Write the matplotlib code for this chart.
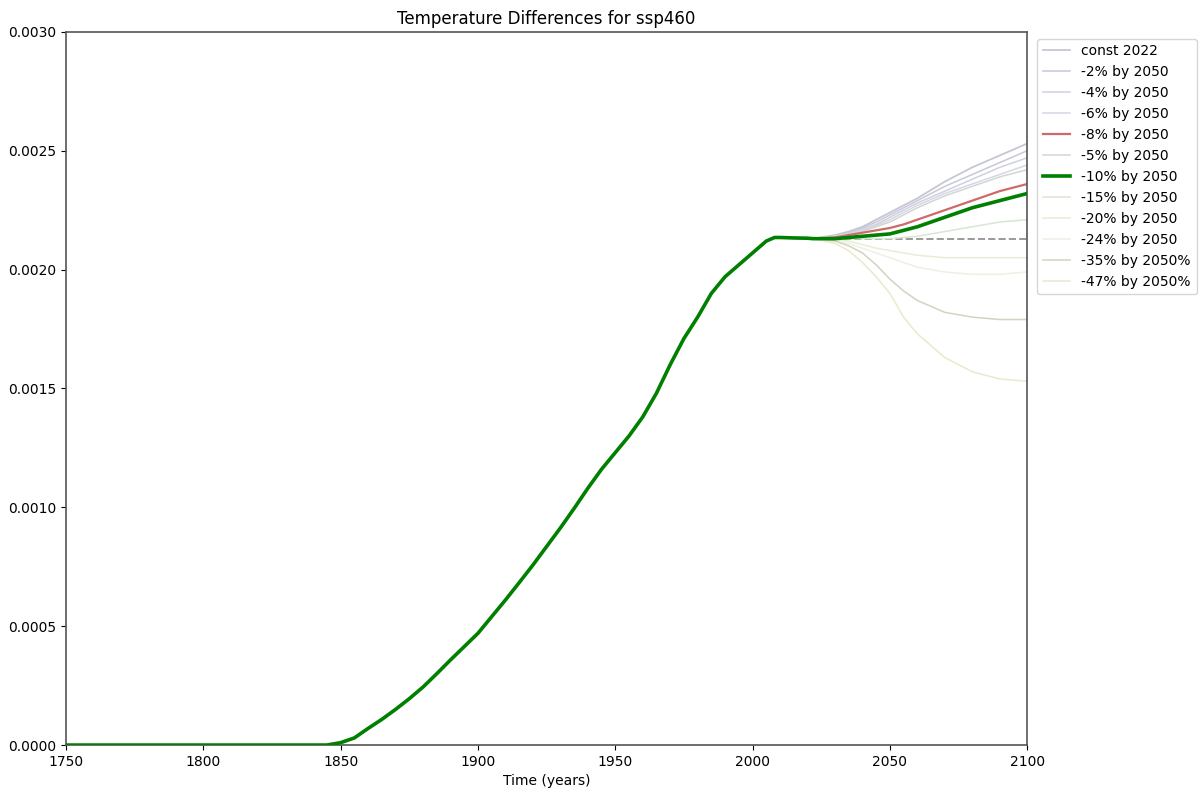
import matplotlib
matplotlib.use("Agg")
import matplotlib.pyplot as plt

# historical temperature difference (shared by every scenario)
hist_years = [1750, 1800, 1845, 1850, 1855, 1860, 1865, 1870, 1875, 1880, 1885, 1890,
              1895, 1900, 1905, 1910, 1915, 1920, 1925, 1930, 1935, 1940, 1945, 1950,
              1955, 1960, 1965, 1970, 1975, 1980, 1985, 1990, 1995, 2000, 2005, 2008,
              2010, 2015, 2020]
hist_vals = [0.0, 0.0, 0.0, 0.00001, 0.00003, 0.00007, 0.000108, 0.00015, 0.000195, 0.000244,
             0.0003, 0.000358, 0.000414, 0.00047, 0.00054, 0.00061, 0.000683, 0.000757, 0.000835,
             0.000913, 0.000995, 0.00108, 0.00116, 0.00123, 0.0013, 0.00138, 0.00148, 0.0016,
             0.00171, 0.0018, 0.0019, 0.00197, 0.00202, 0.00207, 0.00212, 0.002135,
             0.002135, 0.002133, 0.002132]

# projections after 2022
fut_years = [2022, 2030, 2035, 2040, 2045, 2050, 2055, 2060, 2070, 2080, 2090, 2100]

const_2022 = [0.00213, 0.002145, 0.00216, 0.00218, 0.00221, 0.00224, 0.00227, 0.0023, 0.00237, 0.00243, 0.00248, 0.00253]
cut_2 = [0.00213, 0.00214, 0.002155, 0.002175, 0.0022, 0.00223, 0.00226, 0.00229, 0.00235, 0.0024, 0.00245, 0.0025]
cut_4 = [0.00213, 0.00214, 0.00215, 0.00217, 0.00219, 0.00222, 0.00225, 0.00228, 0.00233, 0.00238, 0.00243, 0.00247]
cut_6 = [0.00213, 0.00214, 0.00215, 0.002165, 0.002185, 0.00221, 0.00224, 0.00227, 0.00232, 0.00236, 0.0024, 0.00244]
cut_8 = [0.00213, 0.002135, 0.002145, 0.002155, 0.002165, 0.002175, 0.00219, 0.00221, 0.00225, 0.00229, 0.00233, 0.00236]
cut_5 = [0.00213, 0.00214, 0.00215, 0.00216, 0.00218, 0.0022, 0.00223, 0.00226, 0.00231, 0.00235, 0.00239, 0.00242]
cut_10 = [0.00213, 0.00213, 0.002135, 0.00214, 0.002145, 0.00215, 0.002165, 0.00218, 0.00222, 0.00226, 0.00229, 0.00232]
cut_15 = [0.00213, 0.00213, 0.00213, 0.00213, 0.00213, 0.00213, 0.002135, 0.00214, 0.00216, 0.00218, 0.0022, 0.00221]
cut_20 = [0.00213, 0.002125, 0.00212, 0.002105, 0.00209, 0.00208, 0.00207, 0.00206, 0.00205, 0.00205, 0.00205, 0.00205]
cut_24 = [0.00213, 0.00212, 0.00211, 0.00209, 0.00207, 0.00205, 0.00203, 0.00201, 0.00199, 0.00198, 0.00198, 0.00199]
cut_35 = [0.00213, 0.00212, 0.0021, 0.00207, 0.00202, 0.00196, 0.00191, 0.00187, 0.00182, 0.0018, 0.00179, 0.00179]
cut_47 = [0.00213, 0.00211, 0.00208, 0.00203, 0.00197, 0.0019, 0.0018, 0.00173, 0.00163, 0.00157, 0.00154, 0.00153]

labels = ["const 2022", "-2% by 2050", "-4% by 2050", "-6% by 2050", "-8% by 2050",
          "-5% by 2050", "-10% by 2050", "-15% by 2050", "-20% by 2050", "-24% by 2050",
          "-35% by 2050%", "-47% by 2050%"]
series = [const_2022, cut_2, cut_4, cut_6, cut_8, cut_5, cut_10, cut_15, cut_20, cut_24, cut_35, cut_47]
colors = ["#c4c8d4", "#c8c8d8", "#d0d0e2", "#d6d6e6", "#d06a6a", "#cfd8cf", "green",
          "#d8e6d4", "#e6eed6", "#eef0e4", "#d4d2c0", "#ece8cc"]
widths = [1.3, 1.1, 1.1, 1.1, 1.6, 1.1, 2.6, 1.1, 1.1, 1.1, 1.1, 1.1]

fig = plt.figure(figsize=(12, 7.96), dpi=100)
ax = fig.add_axes([0.055, 0.064, 0.801, 0.896])

for lab, vals, c, lw in zip(labels, series, colors, widths):
    z = 3 if lab == "-10% by 2050" else (2.5 if lab == "-8% by 2050" else 2)
    ax.plot(hist_years + fut_years, hist_vals + vals, color=c, lw=lw, label=lab, zorder=z)

# reference: keep the 2022 level
ax.plot([fut_years[0], fut_years[-1]], [const_2022[0], const_2022[0]],
        color="gray", ls="--", lw=1.4, alpha=0.8, zorder=1.5)

ax.set_xlim(1750, 2100)
ax.set_ylim(0, 0.003)
ax.set_xlabel("Time (years)")
ax.set_title("Temperature Differences for ssp460")
for sp in ax.spines.values():
    sp.set_color("#555555")
    sp.set_linewidth(1.2)
ax.legend(loc="upper left", bbox_to_anchor=(1.003, 1.0), fontsize=10)

fig.savefig("out.png")
